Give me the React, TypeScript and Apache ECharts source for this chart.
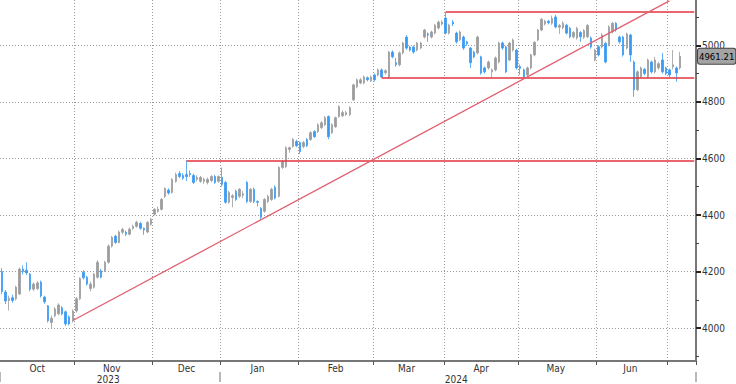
import React, { useEffect, useRef } from 'react';
import * as echarts from 'echarts';

// [open, close, low, high] per trading day, grouped by month
const oct2023 = [
  [4200, 4130, 4120, 4212], [4128, 4096, 4085, 4135], [4098, 4105, 4062, 4115], [4108, 4098, 4090, 4118],
  [4104, 4145, 4098, 4150], [4121, 4209, 4118, 4214], [4209, 4200, 4190, 4222], [4205, 4195, 4188, 4233],
  [4191, 4138, 4130, 4195], [4138, 4156, 4132, 4162], [4140, 4160, 4135, 4166], [4163, 4114, 4108, 4168],
  [4110, 4093, 4086, 4115], [4079, 4026, 4020, 4082], [4020, 4035, 3997, 4045], [4044, 4068, 4038, 4075],
  [4051, 4082, 4045, 4088], [4072, 4051, 4045, 4078], [4058, 4015, 4008, 4062], [4040, 4015, 4010, 4045],
  [4026, 4061, 4020, 4066],
];
const nov2023 = [
  [4061, 4104, 4055, 4110], [4104, 4176, 4100, 4180], [4198, 4178, 4172, 4205], [4180, 4156, 4150, 4185],
  [4140, 4156, 4130, 4165], [4145, 4191, 4140, 4195], [4180, 4233, 4175, 4240], [4203, 4180, 4176, 4210],
  [4203, 4233, 4198, 4238], [4233, 4290, 4228, 4296], [4290, 4321, 4285, 4326], [4325, 4303, 4298, 4330],
  [4303, 4340, 4300, 4345], [4339, 4349, 4332, 4355], [4339, 4332, 4326, 4345], [4332, 4350, 4328, 4356],
  [4353, 4360, 4348, 4366], [4360, 4374, 4355, 4380], [4370, 4353, 4348, 4376], [4353, 4347, 4330, 4356],
  [4340, 4374, 4336, 4378], [4367, 4385, 4362, 4390],
];
const dec2023 = [
  [4403, 4420, 4398, 4425], [4413, 4420, 4408, 4430], [4420, 4455, 4416, 4460], [4466, 4494, 4460, 4498],
  [4488, 4478, 4472, 4494], [4480, 4526, 4476, 4530], [4519, 4543, 4514, 4550], [4547, 4536, 4530, 4555],
  [4540, 4530, 4524, 4548], [4543, 4536, 4520, 4593], [4547, 4543, 4535, 4558], [4540, 4515, 4510, 4546],
  [4526, 4533, 4518, 4540], [4519, 4533, 4514, 4538], [4519, 4526, 4510, 4532], [4515, 4526, 4508, 4532],
  [4522, 4536, 4516, 4541], [4536, 4515, 4510, 4542], [4519, 4536, 4514, 4540],
];
const jan2024 = [
  [4533, 4508, 4500, 4568], [4515, 4445, 4440, 4520], [4445, 4480, 4440, 4485], [4462, 4468, 4427, 4474],
  [4484, 4455, 4450, 4490], [4466, 4491, 4460, 4495], [4470, 4475, 4460, 4485], [4515, 4448, 4442, 4520],
  [4448, 4491, 4443, 4496], [4491, 4448, 4442, 4497], [4448, 4445, 4430, 4452], [4424, 4392, 4385, 4428],
  [4413, 4455, 4408, 4460], [4448, 4466, 4442, 4472], [4455, 4491, 4450, 4496], [4498, 4460, 4455, 4505],
  [4466, 4568, 4462, 4572], [4568, 4589, 4563, 4594], [4571, 4638, 4566, 4643], [4632, 4638, 4620, 4642],
  [4642, 4667, 4638, 4672], [4660, 4645, 4640, 4666],
];
const feb2024 = [
  [4656, 4624, 4615, 4660], [4642, 4656, 4636, 4662], [4667, 4645, 4640, 4672], [4667, 4691, 4662, 4696],
  [4695, 4677, 4672, 4700], [4695, 4719, 4690, 4724], [4709, 4726, 4704, 4732], [4719, 4744, 4714, 4750],
  [4748, 4677, 4668, 4752], [4691, 4719, 4686, 4724], [4712, 4744, 4708, 4748], [4748, 4783, 4744, 4788],
  [4751, 4762, 4746, 4770], [4755, 4762, 4750, 4768], [4755, 4779, 4750, 4785], [4807, 4860, 4803, 4864],
  [4853, 4878, 4848, 4883], [4867, 4878, 4862, 4884], [4867, 4888, 4862, 4893], [4885, 4878, 4872, 4890],
  [4874, 4888, 4870, 4893],
];
const mar2024 = [
  [4895, 4878, 4872, 4900], [4895, 4913, 4890, 4918], [4913, 4888, 4884, 4918], [4903, 4910, 4896, 4915],
  [4888, 4976, 4884, 4980], [4976, 4959, 4954, 4982], [4938, 4931, 4924, 4955], [4931, 4973, 4926, 4978],
  [4973, 5008, 4968, 5012], [5029, 4990, 4984, 5036], [4994, 4983, 4978, 4998], [4994, 4976, 4970, 4999],
  [4983, 5008, 4978, 5012], [4990, 5008, 4986, 5012], [5029, 5054, 5024, 5058], [5040, 5036, 5012, 5045],
  [5029, 5047, 5024, 5052], [5043, 5071, 5038, 5075], [5061, 5082, 5056, 5087], [5075, 5082, 5070, 5088],
];
const apr2024 = [
  [5096, 5043, 5038, 5117], [5043, 5071, 5038, 5076], [5082, 5075, 5068, 5089], [5043, 5012, 5006, 5048],
  [5019, 5047, 5014, 5052], [5029, 4990, 4984, 5034], [5012, 5005, 4998, 5016], [4990, 4938, 4920, 4994],
  [4976, 4959, 4954, 4981], [4973, 5029, 4968, 5034], [4959, 4902, 4896, 4963], [4920, 4906, 4900, 4925],
  [4920, 4941, 4914, 4946], [4906, 4913, 4888, 4918], [4913, 4955, 4908, 4960], [4941, 5008, 4936, 5012],
  [5008, 4990, 4984, 5013], [4994, 4906, 4902, 4998], [4948, 5008, 4944, 5012], [4983, 5019, 4978, 5024],
  [4983, 4920, 4914, 4988],
];
const may2024 = [
  [4925, 4918, 4895, 4932], [4913, 4888, 4884, 4918], [4895, 4920, 4890, 4925], [4920, 4966, 4915, 4970],
  [4966, 5010, 4961, 5015], [5019, 5054, 5014, 5058], [5054, 5092, 5050, 5096], [5075, 5085, 5070, 5090],
  [5085, 5080, 5074, 5090], [5078, 5095, 5072, 5105], [5100, 5065, 5060, 5108], [5064, 5070, 5040, 5075],
  [5062, 5078, 5056, 5085], [5071, 5043, 5038, 5076], [5060, 5030, 5025, 5065], [5030, 5045, 5024, 5050],
  [5026, 5060, 5020, 5065], [5045, 5030, 5012, 5050], [5028, 5052, 5022, 5057], [5030, 5070, 5026, 5075],
  [5026, 4994, 4988, 5031], [4948, 4983, 4943, 4988],
];
const jun2024 = [
  [4995, 4966, 4960, 5000], [4994, 5036, 4988, 5043], [5007, 4941, 4936, 5012], [5001, 5065, 4996, 5070],
  [5047, 5078, 5042, 5082], [5078, 5054, 5048, 5082], [5029, 5012, 5006, 5034], [5029, 4966, 4960, 5034],
  [4990, 5040, 4985, 5045], [5036, 4966, 4941, 5041], [4941, 4843, 4818, 4946], [4843, 4906, 4838, 4911],
  [4889, 4920, 4884, 4925], [4915, 4900, 4894, 4920], [4889, 4948, 4884, 4953], [4941, 4906, 4900, 4946],
  [4906, 4948, 4900, 4959], [4920, 4935, 4914, 4941], [4948, 4906, 4900, 4973], [4920, 4900, 4894, 4925],
];
const jul2024 = [
  [4913, 4895, 4888, 4918], [4924, 4931, 4915, 4983], [4920, 4902, 4871, 4925], [4920, 4961.21, 4914, 4977],
];

const lastPrice = 4961.21;
const yMin = 3884;
const yMax = 5160;
const yMajorTicks = [4000, 4200, 4400, 4600, 4800, 5000];
const yMinorTicks = [3900, 4100, 4300, 4500, 4700, 4900, 5100];
const monthNames = ['Jan', 'Feb', 'Mar', 'Apr', 'May', 'Jun', 'Jul', 'Aug', 'Sep', 'Oct', 'Nov', 'Dec'];
const holidays = ['2023-12-25', '2023-12-26', '2024-01-01', '2024-03-29', '2024-04-01', '2024-05-01'];
const firstDay = '2023-10-03';
const emptyTailDays = 4;

// horizontal levels: [start date, level]
const decHigh = ['2023-12-14', 4593];
const supportLevel = ['2024-03-05', 4886];
const aprHigh = ['2024-04-02', 5118];
// trend line: [date, value] pairs
const trendStart = ['2023-10-31', 4027];
const trendEnd = ['2024-07-01', 5157];

const FONT = '"Liberation Sans Narrow", "DejaVu Sans Condensed", "Liberation Sans", sans-serif';

const ohlc = [
  ...oct2023, ...nov2023, ...dec2023, ...jan2024, ...feb2024,
  ...mar2024, ...apr2024, ...may2024, ...jun2024, ...jul2024,
];

function buildDates(total: number): string[] {
  const out: string[] = [];
  const d = new Date(firstDay + 'T00:00:00Z');
  while (out.length < total) {
    const wd = d.getUTCDay();
    const s = d.toISOString().slice(0, 10);
    if (wd !== 0 && wd !== 6 && holidays.indexOf(s) < 0) out.push(s);
    d.setUTCDate(d.getUTCDate() + 1);
  }
  return out;
}

const dates = buildDates(ohlc.length + emptyTailDays);
const lastCat = dates[dates.length - 1];

const monthStarts = new Set<number>();
const monthLabelIdx = new Set<number>();
const monthLabelMap: Record<string, string> = {};
const yearStarts = new Set<number>([0]);
const yearLabelIdx = new Set<number>();
const yearLabelMap: Record<string, string> = {};
(() => {
  let gStart = 0;
  for (let i = 1; i <= ohlc.length; i++) {
    const ended = i === ohlc.length || dates[i].slice(0, 7) !== dates[i - 1].slice(0, 7);
    if (ended) {
      if (i < ohlc.length) monthStarts.add(i);
      const count = i - gStart;
      if (count >= 10) {
        const mid = Math.floor((gStart + i - 1) / 2);
        monthLabelIdx.add(mid);
        monthLabelMap[dates[mid]] = monthNames[parseInt(dates[gStart].slice(5, 7), 10) - 1];
      }
      gStart = i;
    }
  }
  let yStart = 0;
  for (let i = 1; i <= dates.length; i++) {
    const ended = i === dates.length || dates[i].slice(0, 4) !== dates[i - 1].slice(0, 4);
    if (ended) {
      if (i < dates.length) yearStarts.add(i);
      const mid = Math.floor((yStart + i - 1) / 2);
      yearLabelIdx.add(mid);
      yearLabelMap[dates[mid]] = dates[yStart].slice(0, 4);
      yStart = i;
    }
  }
})();

const redLine = { color: '#e2333f', width: 1.6, type: 'solid' as const };

const option = {
  animation: false,
  backgroundColor: '#ffffff',
  grid: { left: 0, right: 40, top: 0, bottom: 22, containLabel: false },
  xAxis: [
    {
      type: 'category',
      data: dates,
      boundaryGap: true,
      axisLine: { show: true, onZero: false, lineStyle: { color: '#777777', width: 2 } },
      axisTick: {
        show: true,
        interval: (i: number) => monthStarts.has(i),
        length: 4,
        lineStyle: { color: '#555555', width: 1 },
      },
      axisLabel: {
        show: true,
        interval: (i: number) => monthLabelIdx.has(i),
        formatter: (v: string) => monthLabelMap[v] || '',
        margin: 2,
        color: '#333333',
        fontSize: 10,
        lineHeight: 10,
        fontFamily: FONT,
      },
      splitLine: {
        show: true,
        interval: (i: number) => monthStarts.has(i),
        lineStyle: { color: '#9a9a9a', type: [1, 2], width: 1 },
      },
    },
    {
      type: 'category',
      data: dates,
      boundaryGap: true,
      position: 'bottom',
      offset: 11,
      axisLine: { show: false },
      axisTick: {
        show: true,
        interval: (i: number) => yearStarts.has(i),
        length: 10,
        lineStyle: { color: '#b8b8b8', width: 2 },
      },
      axisLabel: {
        show: true,
        interval: (i: number) => yearLabelIdx.has(i),
        formatter: (v: string) => yearLabelMap[v] || '',
        margin: 2,
        color: '#333333',
        fontSize: 10,
        lineHeight: 10,
        fontFamily: FONT,
      },
      splitLine: { show: false },
    },
  ],
  yAxis: [
    {
      type: 'value',
      position: 'right',
      min: yMin,
      max: yMax,
      axisLine: { show: true, lineStyle: { color: '#777777', width: 2 } },
      axisTick: { show: true, customValues: yMajorTicks, length: 5, lineStyle: { color: '#222222', width: 2 } },
      axisLabel: {
        show: true,
        customValues: yMajorTicks,
        formatter: (v: number) => String(v),
        margin: 6,
        color: '#333333',
        fontSize: 10,
        fontFamily: FONT,
      },
      splitLine: { show: true, lineStyle: { color: '#9a9a9a', type: [1, 2], width: 1 } },
    },
    {
      type: 'value',
      position: 'right',
      min: yMin,
      max: yMax,
      axisLine: { show: false },
      axisTick: { show: true, customValues: yMinorTicks, length: 3, lineStyle: { color: '#444444', width: 1 } },
      axisLabel: { show: false },
      splitLine: { show: false },
    },
  ],
  series: [
    {
      type: 'candlestick',
      xAxisIndex: 0,
      yAxisIndex: 0,
      data: ohlc,
      barWidth: 2,
      itemStyle: {
        color: '#9c9c9c',
        color0: '#3b9af2',
        borderColor: '#9c9c9c',
        borderColor0: '#3b9af2',
        borderWidth: 0.8,
      },
      markLine: {
        silent: true,
        symbol: ['none', 'none'],
        animation: false,
        label: { show: false },
        emphasis: { disabled: true },
        data: [
          [{ coord: [decHigh[0], decHigh[1]], lineStyle: redLine }, { coord: [lastCat, decHigh[1]] }],
          [{ coord: [supportLevel[0], supportLevel[1]], lineStyle: redLine }, { coord: [lastCat, supportLevel[1]] }],
          [{ coord: [aprHigh[0], aprHigh[1]], lineStyle: redLine }, { coord: [lastCat, aprHigh[1]] }],
          [
            { coord: [trendStart[0], trendStart[1]], lineStyle: { color: '#e06070', width: 1.3, type: 'solid' } },
            { coord: [trendEnd[0], trendEnd[1]] },
          ],
          {
            yAxis: lastPrice,
            lineStyle: { color: 'rgba(255,255,255,0)', width: 0, type: 'solid' },
            label: {
              show: true,
              position: 'end',
              distance: 2,
              formatter: lastPrice.toFixed(2),
              color: '#000000',
              opacity: 1,
              fontSize: 9.5,
              fontFamily: FONT,
              backgroundColor: '#a3a3a3',
              borderColor: '#444444',
              borderWidth: 1,
              borderRadius: 2,
              padding: [3, 1, 2, 1],
            },
          },
        ],
      },
    },
  ],
};

export default function App() {
  const ref = useRef<HTMLDivElement>(null);
  useEffect(() => {
    document.body.style.margin = '0';
    const chart = echarts.init(ref.current as HTMLDivElement, undefined, { renderer: 'svg' });
    chart.setOption(option as any);
    return () => chart.dispose();
  }, []);
  return <div ref={ref} style={{ position: 'absolute', left: 0, top: 0, width: 736, height: 384 }} />;
}
